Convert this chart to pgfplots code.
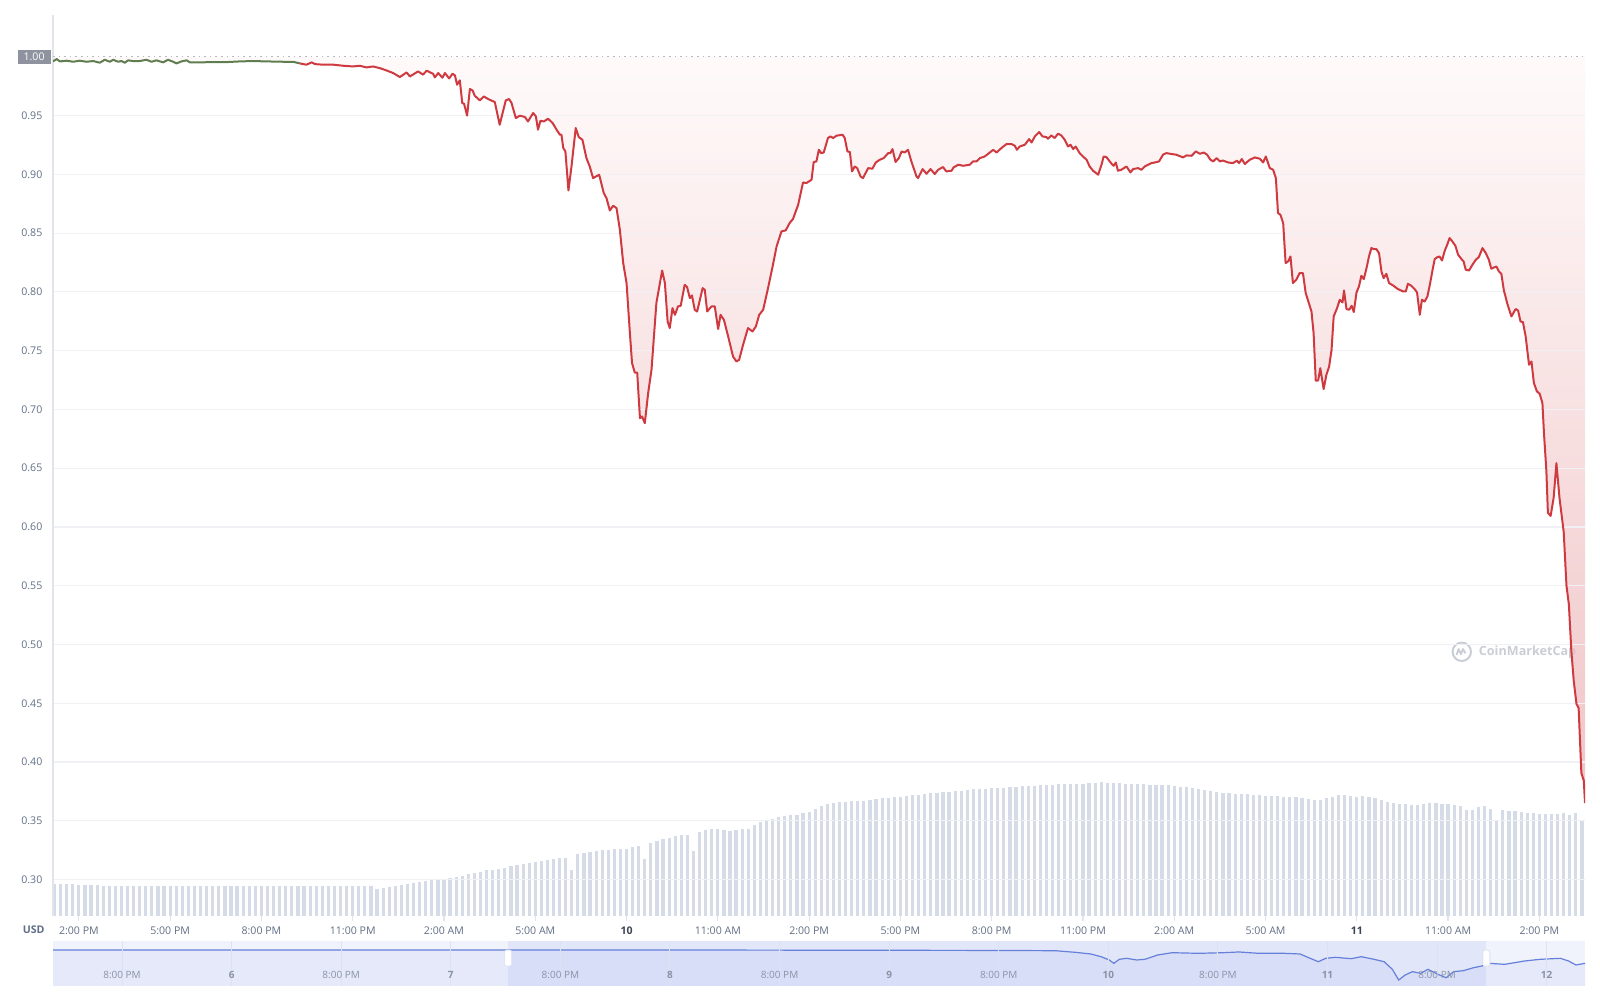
\documentclass[border=0pt]{standalone}
\usepackage{fontspec}
\setmainfont{Open Sans}
\usepackage{pgfplots}
\usepackage{pgfplotstable}
\pgfplotsset{compat=1.18}

\definecolor{pricered}{HTML}{CF3A40}
\definecolor{priceolive}{HTML}{5F7D4F}
\definecolor{filltop}{HTML}{FFF8F8}
\definecolor{fillbot}{HTML}{EAACAF}
\definecolor{gridc}{HTML}{EFF1F4}
\definecolor{axisc}{HTML}{E1E4EA}
\definecolor{lblc}{HTML}{616E85}
\definecolor{dayc}{HTML}{3D4554}
\definecolor{volc}{HTML}{D5DBE7}
\definecolor{basec}{HTML}{B4B9C2}
\definecolor{boxc}{HTML}{8E939F}
\definecolor{wmc}{HTML}{C9CDD5}
\definecolor{navbg}{HTML}{F0F2FC}
\definecolor{navfill}{HTML}{E5E9FA}
\definecolor{navsel}{HTML}{4A63D6}
\definecolor{navline}{HTML}{6580DA}
\definecolor{navgrid}{HTML}{DDE1F1}
\definecolor{navlbl}{HTML}{8A93A6}

\newcommand{\tickfont}{\fontsize{5.3}{6}\selectfont}
\newcommand{\navfont}{\fontsize{5}{6}\selectfont}

% price, hours after 2:00 PM on the 9th
\pgfplotstableread{
h v
-0.85 0.9961
-0.73 0.9981
-0.62 0.9961
-0.40 0.9967
-0.19 0.9958
0.03 0.9967
0.25 0.9958
0.47 0.9964
0.69 0.9950
0.85 0.9975
1.02 0.9958
1.13 0.9975
1.29 0.9958
1.40 0.9964
1.51 0.9950
1.62 0.9970
1.78 0.9964
2.00 0.9964
2.22 0.9975
2.39 0.9958
2.55 0.9970
2.77 0.9953
2.93 0.9975
3.10 0.9958
3.21 0.9944
3.37 0.9961
3.54 0.9970
3.65 0.9953
3.98 0.9953
4.41 0.9955
4.85 0.9955
5.29 0.9961
5.73 0.9964
6.17 0.9961
6.71 0.9958
7.04 0.9958
7.26 0.9944
7.48 0.9933
7.65 0.9953
7.76 0.9938
8.03 0.9933
8.36 0.9933
8.69 0.9924
9.01 0.9918
9.23 0.9924
9.45 0.9910
9.67 0.9918
9.89 0.9904
10.11 0.9884
10.33 0.9862
10.55 0.9828
10.77 0.9867
10.88 0.9833
11.15 0.9876
11.31 0.9848
11.43 0.9882
11.64 0.9856
11.70 0.9825
11.81 0.9862
11.95 0.9822
12.03 0.9862
12.17 0.9816
12.28 0.9856
12.36 0.9842
12.43 0.9763
12.52 0.9800
12.60 0.9607
12.66 0.9600
12.76 0.9500
12.85 0.9726
12.94 0.9714
13.01 0.9669
13.18 0.9629
13.31 0.9663
13.45 0.9641
13.67 0.9615
13.83 0.9422
14.03 0.9629
14.14 0.9641
14.22 0.9607
14.36 0.9479
14.49 0.9499
14.66 0.9488
14.76 0.9450
14.93 0.9522
15.02 0.9493
15.09 0.9380
15.17 0.9456
15.28 0.9450
15.42 0.9473
15.57 0.9437
15.70 0.9380
15.81 0.9337
15.86 0.9337
15.92 0.9224
15.99 0.9195
16.09 0.8863
16.19 0.9067
16.33 0.9394
16.43 0.9317
16.55 0.9294
16.68 0.9139
16.79 0.9067
16.90 0.8968
17.10 0.8997
17.25 0.8841
17.34 0.8798
17.45 0.8693
17.56 0.8733
17.67 0.8713
17.78 0.8529
17.89 0.8245
18.00 0.8075
18.11 0.7649
18.18 0.7394
18.27 0.7314
18.35 0.7314
18.44 0.6926
18.51 0.6940
18.60 0.6883
18.71 0.7139
18.82 0.7337
18.98 0.7905
19.17 0.8182
19.26 0.8075
19.35 0.7748
19.42 0.7692
19.51 0.7862
19.59 0.7805
19.69 0.7876
19.78 0.7882
19.91 0.8060
19.99 0.8041
20.08 0.7947
20.15 0.7970
20.24 0.7848
20.32 0.7833
20.50 0.8032
20.57 0.8018
20.65 0.7833
20.79 0.7876
20.90 0.7876
21.01 0.7684
21.09 0.7805
21.20 0.7762
21.34 0.7620
21.50 0.7450
21.61 0.7408
21.70 0.7422
21.83 0.7550
21.99 0.7692
22.14 0.7663
22.25 0.7706
22.36 0.7805
22.49 0.7848
22.65 0.8032
22.80 0.8216
22.93 0.8386
23.09 0.8514
23.23 0.8523
23.36 0.8586
23.47 0.8620
23.64 0.8741
23.80 0.8931
23.91 0.8926
24.08 0.8954
24.15 0.9105
24.24 0.9110
24.32 0.9209
24.40 0.9180
24.48 0.9186
24.62 0.9309
24.70 0.9323
24.79 0.9309
24.90 0.9329
25.10 0.9337
25.17 0.9309
25.26 0.9195
25.34 0.9190
25.41 0.9025
25.50 0.9067
25.58 0.9053
25.69 0.8982
25.77 0.8968
25.94 0.9053
26.08 0.9048
26.19 0.9101
26.32 0.9124
26.45 0.9138
26.60 0.9181
26.67 0.9181
26.74 0.9215
26.84 0.9105
26.95 0.9138
27.04 0.9195
27.14 0.9186
27.25 0.9209
27.36 0.9110
27.53 0.8982
27.58 0.8968
27.73 0.9045
27.86 0.9005
27.99 0.9045
28.13 0.9003
28.24 0.9039
28.40 0.9062
28.51 0.9025
28.68 0.9031
28.75 0.9059
28.90 0.9082
29.06 0.9073
29.28 0.9082
29.39 0.9110
29.50 0.9110
29.61 0.9138
29.77 0.9152
29.94 0.9186
30.05 0.9209
30.16 0.9186
30.32 0.9224
30.49 0.9258
30.65 0.9258
30.76 0.9243
30.83 0.9209
30.92 0.9237
31.09 0.9252
31.23 0.9300
31.31 0.9271
31.42 0.9323
31.56 0.9360
31.67 0.9323
31.80 0.9317
31.85 0.9303
31.96 0.9331
32.07 0.9309
32.18 0.9346
32.29 0.9331
32.40 0.9294
32.51 0.9237
32.59 0.9252
32.68 0.9215
32.76 0.9237
32.89 0.9181
33.00 0.9152
33.12 0.9124
33.22 0.9067
33.33 0.9031
33.50 0.8997
33.61 0.9082
33.68 0.9152
33.77 0.9147
33.94 0.9090
34.01 0.9073
34.08 0.9101
34.15 0.9031
34.26 0.9039
34.43 0.9067
34.56 0.9016
34.65 0.9045
34.81 0.9053
34.92 0.9039
35.03 0.9067
35.14 0.9082
35.25 0.9096
35.36 0.9101
35.50 0.9110
35.63 0.9167
35.74 0.9181
35.91 0.9173
36.07 0.9167
36.29 0.9144
36.40 0.9161
36.57 0.9158
36.71 0.9195
36.84 0.9175
36.97 0.9186
37.08 0.9167
37.19 0.9124
37.28 0.9110
37.39 0.9138
37.50 0.9110
37.60 0.9118
37.77 0.9101
37.93 0.9096
38.06 0.9116
38.13 0.9096
38.22 0.9130
38.32 0.9088
38.48 0.9124
38.65 0.9144
38.81 0.9133
38.92 0.9101
39.01 0.9152
39.14 0.9053
39.25 0.9039
39.34 0.8968
39.41 0.8671
39.49 0.8656
39.58 0.8586
39.66 0.8245
39.74 0.8259
39.82 0.8301
39.90 0.8075
40.01 0.8103
40.12 0.8160
40.23 0.8160
40.32 0.7990
40.39 0.7933
40.51 0.7833
40.58 0.7649
40.65 0.7246
40.73 0.7246
40.80 0.7351
40.91 0.7173
41.00 0.7294
41.09 0.7365
41.17 0.7507
41.24 0.7791
41.35 0.7862
41.44 0.7933
41.53 0.7910
41.58 0.8012
41.66 0.7854
41.75 0.7848
41.83 0.7882
41.90 0.7828
41.99 0.7995
42.07 0.8046
42.15 0.8137
42.23 0.8109
42.32 0.8203
42.40 0.8301
42.48 0.8373
42.56 0.8364
42.64 0.8364
42.73 0.8330
42.81 0.8174
42.88 0.8117
42.97 0.8154
43.06 0.8075
43.19 0.8055
43.35 0.8024
43.52 0.8004
43.61 0.8004
43.68 0.8069
43.79 0.8052
43.90 0.8024
43.98 0.7995
44.07 0.7805
44.14 0.7933
44.23 0.7918
44.32 0.7961
44.40 0.8060
44.49 0.8188
44.56 0.8279
44.65 0.8296
44.72 0.8301
44.80 0.8267
44.89 0.8350
44.97 0.8401
45.05 0.8458
45.14 0.8429
45.24 0.8392
45.33 0.8316
45.44 0.8279
45.51 0.8259
45.58 0.8188
45.69 0.8182
45.80 0.8231
45.91 0.8273
46.01 0.8296
46.13 0.8373
46.24 0.8330
46.34 0.8273
46.42 0.8197
46.51 0.8208
46.59 0.8216
46.67 0.8174
46.75 0.8154
46.83 0.8018
46.94 0.7905
47.08 0.7791
47.22 0.7854
47.30 0.7842
47.38 0.7748
47.46 0.7743
47.55 0.7620
47.66 0.7380
47.74 0.7408
47.82 0.7224
47.92 0.7153
48.01 0.7133
48.10 0.7054
48.15 0.6803
48.23 0.6478
48.28 0.6120
48.37 0.6094
48.47 0.6250
48.56 0.6543
48.66 0.6250
48.80 0.5957
48.89 0.5502
48.97 0.5339
49.05 0.4948
49.13 0.4689
49.22 0.4493
49.29 0.4460
49.38 0.3907
49.46 0.3842
49.50 0.3650
}\pricetable

% navigator line (own hour scale, 0 = first 8:00 PM label)
\pgfplotstableread{
t p
-7.56 0.800
20.0 0.800
60.0 0.800
96.2 0.790
102.2 0.784
104.4 0.748
106.1 0.711
107.2 0.651
108.1 0.578
108.6 0.504
109.2 0.593
110.0 0.615
111.1 0.578
112.0 0.593
113.4 0.689
115.0 0.740
117.9 0.726
120.6 0.740
122.3 0.756
124.5 0.726
127.3 0.726
129.0 0.711
130.1 0.615
131.0 0.540
131.8 0.615
132.9 0.637
134.6 0.607
135.7 0.651
137.1 0.593
138.2 0.540
139.1 0.371
139.8 0.133
140.5 0.244
141.3 0.318
142.2 0.281
143.0 0.371
144.1 0.259
145.0 0.184
145.8 0.318
146.9 0.341
148.0 0.407
148.9 0.444
149.7 0.504
151.4 0.481
153.6 0.556
155.3 0.593
157.5 0.615
158.4 0.556
159.2 0.467
160.2 0.504
}\navtable

\begin{document}
\begin{tikzpicture}[x=1pt,y=1pt]
\path[use as bounding box] (0,0) rectangle (800,500);

% volume bars, one every 0.2 h
\begin{axis}[
  at={(26.5pt,42pt)}, anchor=south west, scale only axis,
  width=766pt, height=450.5pt,
  xmin=-0.85, xmax=49.5, ymin=0, ymax=90.1,
  hide axis,
]
\addplot[ycomb, draw=volc, line width=1.6pt] coordinates {
(-0.8,3.15) (-0.6,3.15) (-0.4,3.15) (-0.2,3.15) (0,3.10) (0.2,3.10) (0.4,3.05) (0.6,3.05) (0.8,3.00) (1.0,3.00)
(1.2,3.00) (1.4,3.00) (1.6,2.95) (1.8,2.95) (2.0,2.95) (2.2,2.95) (2.4,2.95) (2.6,2.95) (2.8,2.95) (3.0,2.95)
(3.2,2.95) (3.4,2.95) (3.6,2.95) (3.8,2.95) (4.0,2.95) (4.2,2.95) (4.4,2.95) (4.6,2.95) (4.8,2.95) (5.0,2.95)
(5.2,2.95) (5.4,3.00) (5.6,3.00) (5.8,3.00) (6.0,3.00) (6.2,3.00) (6.4,3.00) (6.6,3.00) (6.8,3.00) (7.0,3.00)
(7.2,3.00) (7.4,3.00) (7.6,3.00) (7.8,3.00) (8.0,3.00) (8.2,3.00) (8.4,3.00) (8.6,3.00) (8.8,3.00) (9.0,3.00)
(9.2,3.00) (9.4,3.00) (9.6,3.00) (9.8,2.70) (10.0,2.80) (10.2,2.85) (10.4,2.95) (10.6,3.10) (10.8,3.20) (11.0,3.30)
(11.2,3.35) (11.4,3.45) (11.6,3.55) (11.8,3.60) (12.0,3.60) (12.2,3.75) (12.4,3.85) (12.6,4.00) (12.8,4.15) (13.0,4.30)
(13.2,4.40) (13.4,4.55) (13.6,4.60) (13.8,4.70) (14.0,4.80) (14.2,4.95) (14.4,5.05) (14.6,5.15) (14.8,5.25) (15.0,5.40)
(15.2,5.50) (15.4,5.60) (15.6,5.70) (15.8,5.75) (16.0,5.80) (16.2,4.60) (16.4,6.20) (16.6,6.30) (16.8,6.40) (17.0,6.50)
(17.2,6.55) (17.4,6.60) (17.6,6.65) (17.8,6.65) (18.0,6.70) (18.2,6.85) (18.4,7.00) (18.6,5.70) (18.8,7.30) (19.0,7.45)
(19.2,7.65) (19.4,7.80) (19.6,7.95) (19.8,8.10) (20.0,8.10) (20.2,6.50) (20.4,8.40) (20.6,8.55) (20.8,8.65) (21.0,8.70)
(21.2,8.60) (21.4,8.50) (21.6,8.60) (21.8,8.65) (22.0,8.70) (22.2,9.10) (22.4,9.35) (22.6,9.50) (22.8,9.65) (23.0,9.85)
(23.2,10.00) (23.4,10.05) (23.6,10.10) (23.8,10.25) (24.0,10.40) (24.2,10.70) (24.4,10.95) (24.6,11.20) (24.8,11.30) (25.0,11.35)
(25.2,11.40) (25.4,11.45) (25.6,11.45) (25.8,11.50) (26.0,11.55) (26.2,11.65) (26.4,11.75) (26.6,11.80) (26.8,11.85) (27.0,11.90)
(27.2,12.00) (27.4,12.05) (27.6,12.10) (27.8,12.15) (28.0,12.25) (28.2,12.30) (28.4,12.35) (28.6,12.40) (28.8,12.50) (29.0,12.50)
(29.2,12.60) (29.4,12.65) (29.6,12.65) (29.8,12.70) (30.0,12.75) (30.2,12.75) (30.4,12.80) (30.6,12.85) (30.8,12.90) (31.0,12.95)
(31.2,13.00) (31.4,13.00) (31.6,13.05) (31.8,13.10) (32.0,13.10) (32.2,13.15) (32.4,13.15) (32.6,13.20) (32.8,13.20) (33.0,13.20)
(33.2,13.25) (33.4,13.30) (33.6,13.35) (33.8,13.30) (34.0,13.30) (34.2,13.25) (34.4,13.20) (34.6,13.20) (34.8,13.15) (35.0,13.15)
(35.2,13.10) (35.4,13.10) (35.6,13.05) (35.8,13.05) (36.0,12.95) (36.2,12.90) (36.4,12.85) (36.6,12.80) (36.8,12.65) (37.0,12.55)
(37.2,12.45) (37.4,12.40) (37.6,12.30) (37.8,12.25) (38.0,12.20) (38.2,12.15) (38.4,12.15) (38.6,12.10) (38.8,12.05) (39.0,12.00)
(39.2,12.00) (39.4,11.95) (39.6,11.90) (39.8,11.85) (40.0,11.85) (40.2,11.75) (40.4,11.70) (40.6,11.60) (40.8,11.60) (41.0,11.75)
(41.2,11.85) (41.4,12.05) (41.6,12.10) (41.8,11.95) (42.0,11.90) (42.2,12.00) (42.4,11.85) (42.6,11.75) (42.8,11.60) (43.0,11.35)
(43.2,11.30) (43.4,11.20) (43.6,11.15) (43.8,11.10) (44.0,11.10) (44.2,11.20) (44.4,11.30) (44.6,11.25) (44.8,11.20) (45.0,11.20)
(45.2,11.10) (45.4,11.00) (45.6,10.60) (45.8,10.60) (46.0,10.90) (46.2,10.95) (46.4,10.70) (46.6,9.60) (46.8,10.55) (47.0,10.50)
(47.2,10.45) (47.4,10.35) (47.6,10.30) (47.8,10.25) (48.0,10.20) (48.2,10.15) (48.4,10.20) (48.6,10.20) (48.8,10.25) (49.0,10.10)
(49.2,10.30) (49.4,9.60)
};
\end{axis}

% shaded area between the price and 1.00 (drawn as price minus 1, closed to 0)
\begin{axis}[
  at={(26.5pt,42pt)}, anchor=south west, scale only axis,
  width=766pt, height=450.5pt,
  xmin=-0.85, xmax=49.5, ymin=-0.731, ymax=0.0356,
  hide axis,
]
\draw[wmc, line width=1pt] (axis cs:45.45,-0.5062) circle[radius=4.6pt];
\draw[wmc, line width=0.9pt, line join=round]
  ([shift={(-2.6pt,-1.6pt)}]axis cs:45.45,-0.5062) -- ++(1pt,3pt) -- ++(1.2pt,-2.6pt)
  -- ++(1pt,2.6pt) -- ++(1.2pt,-2.2pt);
\node[anchor=west, text=wmc, font=\fontsize{6.3}{7}\selectfont\bfseries, inner sep=0pt]
  at (axis cs:46.0,-0.5062) {CoinMarketCap};
\addplot[draw=none, top color=filltop, bottom color=fillbot, fill opacity=0.7]
  table[x=h, y expr=\thisrow{v}-1] {\pricetable} \closedcycle;
\end{axis}

% price
\begin{axis}[
  at={(26.5pt,42pt)}, anchor=south west, scale only axis,
  width=766pt, height=450.5pt,
  xmin=-0.85, xmax=49.5, ymin=0.269, ymax=1.0356,
  axis x line*=bottom, axis y line*=left,
  axis line style={-},
  x axis line style={draw=none},
  y axis line style={draw=axisc, line width=0.6pt},
  ytick={0.30,0.35,0.40,0.45,0.50,0.55,0.60,0.65,0.70,0.75,0.80,0.85,0.90,0.95},
  yticklabels={0.30,0.35,0.40,0.45,0.50,0.55,0.60,0.65,0.70,0.75,0.80,0.85,0.90,0.95},
  ymajorgrids, major grid style={draw=gridc, line width=0.6pt},
  ytick style={draw=none},
  xtick={0,3,...,48},
  xticklabels={2:00 PM,5:00 PM,8:00 PM,11:00 PM,2:00 AM,5:00 AM,\textcolor{dayc}{\bfseries 10},11:00 AM,2:00 PM,5:00 PM,8:00 PM,11:00 PM,2:00 AM,5:00 AM,\textcolor{dayc}{\bfseries 11},11:00 AM,2:00 PM},
  xtick style={draw=axisc, line width=0.6pt},
  tick align=outside, major tick length=2.5pt,
  tick label style={font=\tickfont, text=lblc},
  yticklabel style={anchor=east, xshift=0.7pt},
  xticklabel style={anchor=center, yshift=-5pt},
  clip mode=individual,
]
\draw[basec, line width=0.6pt, dash pattern=on 0.8pt off 2pt]
  (axis cs:-0.85,1) -- (axis cs:49.5,1);
\addplot[priceolive, line width=1pt, line join=round, restrict x to domain=-1:7.3]
  table {\pricetable};
\addplot[pricered, line width=1pt, line join=round, restrict x to domain=7.2:50]
  table {\pricetable};
\node[fill=boxc, text=white, font=\tickfont, anchor=east, inner xsep=3pt,
  inner ysep=0pt, minimum height=7.2pt, xshift=-1pt]
  at (axis cs:-0.85,1) {1.00};
\end{axis}

\node[font=\tickfont\bfseries, text=lblc] at (16.85,35.2) {USD};

% navigator
\begin{axis}[
  at={(26.5pt,7pt)}, anchor=south west, scale only axis,
  width=766pt, height=22.5pt,
  xmin=-7.56, xmax=160.2, ymin=0, ymax=1,
  axis x line*=bottom, axis y line=none,
  axis line style={-},
  x axis line style={draw=none},
  xtick={0,12,...,156},
  xticklabels={8:00 PM,\textbf{6},8:00 PM,\textbf{7},8:00 PM,\textbf{8},8:00 PM,\textbf{9},8:00 PM,\textbf{10},8:00 PM,\textbf{11},8:00 PM,\textbf{12}},
  xtick style={draw=none},
  xmajorgrids, major grid style={draw=navgrid, line width=0.5pt},
  xticklabel style={font=\navfont, text=navlbl, anchor=center, yshift=5.75pt},
  axis on top,
]
\fill[navbg] (axis cs:-7.56,0) rectangle (axis cs:160.2,1);
\addplot[fill=navfill, draw=none] table {\navtable} \closedcycle;
\fill[navsel, fill opacity=0.08] (axis cs:42.28,0) rectangle (axis cs:149.4,1);
\addplot[navline, line width=0.6pt] table {\navtable};
\node[draw=navgrid, fill=white, rounded corners=1pt, minimum width=3.5pt,
  minimum height=8pt, inner sep=0pt] at (axis cs:42.28,0.62) {};
\node[draw=navgrid, fill=white, rounded corners=1pt, minimum width=3.5pt,
  minimum height=8pt, inner sep=0pt] at (axis cs:149.4,0.62) {};
\end{axis}
\end{tikzpicture}
\end{document}
